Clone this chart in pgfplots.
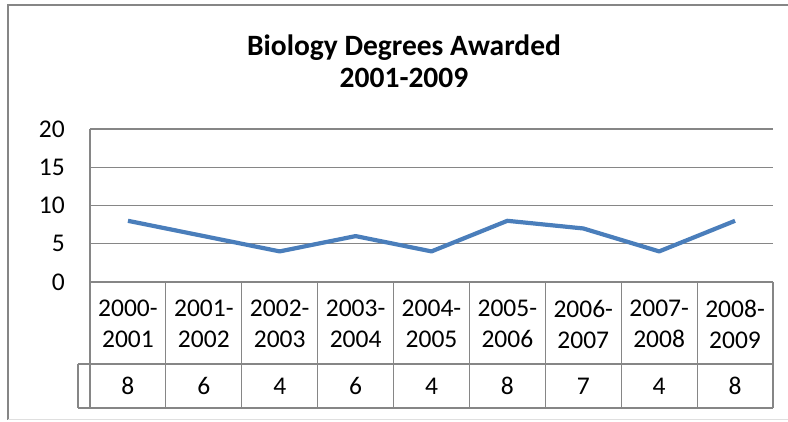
\documentclass[border=0pt]{standalone}
\usepackage{fontspec}
\setmainfont{Carlito}
\usepackage{pgfplots}
\usepackage{pgfplotstable}
\pgfplotsset{compat=1.18}
\definecolor{excelblue}{HTML}{4A7EBB}
\definecolor{gridgray}{HTML}{868686}
\pgfplotstableread{
idx val
0 8
1 6
2 4
3 6
4 4
5 8
6 7
7 4
8 8
}\degrees
\begin{document}
\begin{tikzpicture}
\path[use as bounding box] (-90pt,-139pt) rectangle (698pt,282pt);
\begin{axis}[
  scale only axis,
  width=683pt, height=153pt,
  xmin=-0.5, xmax=8.5, ymin=0, ymax=20,
  ytick={0,5,10,15,20},
  xtick={0,...,8},
  xticklabels={{2000-\\2001},{2001-\\2002},{2002-\\2003},{2003-\\2004},{2004-\\2005},{2005-\\2006},{2006-\\2007},{2007-\\2008},{2008-\\2009}},
  /pgf/number format/assume math mode=true,
  axis x line*=bottom, axis y line*=left,
  axis line style={draw=gridgray, line width=1.2pt, -},
  ymajorgrids, grid style={draw=gridgray, line width=1.2pt},
  tick style={draw=none},
  yticklabel style={font=\fontsize{25.5}{29}\selectfont, anchor=east, inner sep=0pt, xshift=-25pt},
  xticklabel style={font=\fontsize{25.5}{31}\selectfont, align=center, anchor=center, inner sep=0pt, yshift=-42pt},
  clip=false,
]
\addplot[excelblue, line width=4.2pt, line join=round] table[x=idx, y=val] {\degrees};
\addplot[draw=none, nodes near coords, point meta=explicit,
  every node near coord/.style={anchor=center, inner sep=0pt, font=\fontsize{25.5}{29}\selectfont}]
  table[x=idx, y expr=-13.6, meta=val] {\degrees};
% data table grid
\pgfplotsinvokeforeach{-0.5,0.5,1.5,2.5,3.5,4.5,5.5,6.5,7.5,8.5}{
  \draw[gridgray, line width=1.2pt] (axis cs:#1,0) -- (axis cs:#1,-16.47);
}
\draw[gridgray, line width=1.2pt] ([xshift=-12pt]axis cs:-0.5,-10.72) -- (axis cs:8.5,-10.72);
\draw[gridgray, line width=1.2pt] ([xshift=-12pt]axis cs:-0.5,-16.47) -- (axis cs:8.5,-16.47);
\draw[gridgray, line width=1.2pt] ([xshift=-12pt]axis cs:-0.5,-10.72) -- ([xshift=-12pt]axis cs:-0.5,-16.47);
\end{axis}
\node[align=center, font=\bfseries\fontsize{29.5}{32}\selectfont] at (314pt,221pt) {Biology Degrees Awarded\\2001-2009};
\draw[gridgray, line width=2pt] (-81.5pt,-137.5pt) -- (-81.5pt,276.5pt) -- (698pt,276.5pt);
\draw[gray!25, line width=1pt] (-81.5pt,-137.5pt) -- (698pt,-137.5pt);
\end{tikzpicture}
\end{document}
